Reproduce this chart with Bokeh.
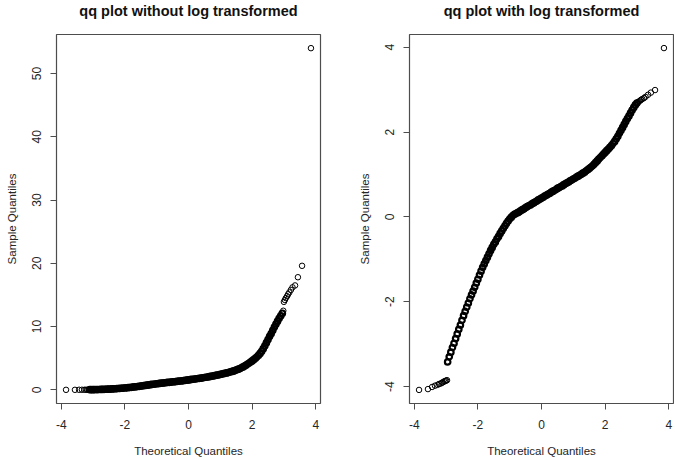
from bokeh.plotting import figure
from bokeh.layouts import row
from bokeh.models import Range1d, FixedTicker, Title
from bokeh.embed import file_html
from bokeh.resources import INLINE

# ---------------- data ----------------
titles = ["qq plot without log transformed", "qq plot with log transformed"]
x_label = "Theoretical Quantiles"
y_label = "Sample Quantiles"
x_ticks = [-4, -2, 0, 2, 4]
left_y_ticks = [0, 10, 20, 30, 40, 50]
right_y_ticks = [-4, -2, 0, 2, 4]

# ---- left panel (raw values) ----
left_low_theoretical = [-3.85, -3.57, -3.44, -3.35, -3.27, -3.22, -3.17, -3.13]
left_low_sample = [0.00, 0.00, 0.01, 0.01, 0.01, 0.01, 0.01, 0.02]

left_mid_theoretical = [
    -3.10, -3.05, -3.00, -2.95, -2.90, -2.85, -2.80, -2.75, -2.70, -2.65,
    -2.60, -2.55, -2.50, -2.45, -2.40, -2.35, -2.30, -2.25, -2.20, -2.15,
    -2.10, -2.05, -2.00, -1.95, -1.90, -1.85, -1.80, -1.75, -1.70, -1.65,
    -1.60, -1.55, -1.50, -1.45, -1.40, -1.35, -1.30, -1.25, -1.20, -1.15,
    -1.10, -1.05, -1.00, -0.95, -0.90, -0.85, -0.80, -0.75, -0.70, -0.65,
    -0.60, -0.55, -0.50, -0.45, -0.40, -0.35, -0.30, -0.25, -0.20, -0.15,
    -0.10, -0.05, 0.00, 0.05, 0.10, 0.15, 0.20, 0.25, 0.30, 0.35,
    0.40, 0.45, 0.50, 0.55, 0.60, 0.65, 0.70, 0.75, 0.80, 0.85,
    0.90, 0.95, 1.00, 1.05, 1.10, 1.15, 1.20, 1.25, 1.30, 1.35,
    1.40, 1.45, 1.50, 1.55, 1.60, 1.65, 1.70, 1.75, 1.80, 1.85,
    1.90, 1.95, 2.00, 2.05, 2.10, 2.15, 2.20, 2.25, 2.30, 2.35,
    2.40, 2.45, 2.50, 2.55, 2.60, 2.65, 2.70, 2.75, 2.80, 2.85,
    2.90, 2.95,
]
left_mid_sample = [
    0.02, 0.02, 0.03, 0.03, 0.04, 0.04, 0.05, 0.06, 0.07, 0.08,
    0.09, 0.10, 0.11, 0.12, 0.14, 0.15, 0.17, 0.19, 0.21, 0.23,
    0.25, 0.27, 0.29, 0.31, 0.34, 0.37, 0.40, 0.43, 0.46, 0.49,
    0.53, 0.56, 0.60, 0.63, 0.67, 0.70, 0.74, 0.77, 0.81, 0.85,
    0.88, 0.92, 0.96, 0.99, 1.02, 1.05, 1.08, 1.11, 1.14, 1.17,
    1.19, 1.22, 1.25, 1.28, 1.31, 1.34, 1.37, 1.40, 1.43, 1.47,
    1.50, 1.53, 1.57, 1.60, 1.64, 1.67, 1.71, 1.75, 1.79, 1.82,
    1.86, 1.90, 1.95, 1.99, 2.03, 2.08, 2.12, 2.17, 2.22, 2.27,
    2.32, 2.38, 2.43, 2.49, 2.55, 2.61, 2.67, 2.73, 2.80, 2.87,
    2.95, 3.03, 3.12, 3.22, 3.33, 3.45, 3.58, 3.72, 3.87, 4.03,
    4.20, 4.38, 4.57, 4.77, 4.98, 5.20, 5.45, 5.75, 6.10, 6.50,
    6.95, 7.45, 7.95, 8.45, 8.90, 9.40, 9.90, 10.40, 10.85, 11.30,
    11.70, 12.10,
]

left_high_theoretical = [2.98, 3.00, 3.03, 3.06, 3.10, 3.13, 3.17, 3.22, 3.27,
                         3.35, 3.44, 3.57, 3.85]
left_high_sample = [12.5, 13.9, 14.2, 14.5, 14.8, 15.1, 15.4, 15.8, 16.2,
                    16.5, 17.8, 19.6, 54.0]

# ---- right panel (log values) ----
right_low_theoretical = [-3.85, -3.57, -3.44, -3.35, -3.27, -3.22, -3.17,
                         -3.13, -3.10, -3.06, -3.03, -3.00, -2.97]
right_low_sample = [-4.08, -4.06, -4.01, -3.98, -3.96, -3.94, -3.93,
                    -3.91, -3.90, -3.88, -3.87, -3.86, -3.85]

right_mid_theoretical = [
    -2.95, -2.90, -2.85, -2.80, -2.75, -2.70, -2.65, -2.60, -2.55, -2.50,
    -2.45, -2.40, -2.35, -2.30, -2.25, -2.20, -2.15, -2.10, -2.05, -2.00,
    -1.95, -1.90, -1.85, -1.80, -1.75, -1.70, -1.65, -1.60, -1.55, -1.50,
    -1.45, -1.40, -1.35, -1.30, -1.25, -1.20, -1.15, -1.10, -1.05, -1.00,
    -0.95, -0.90, -0.85, -0.80, -0.75, -0.70, -0.65, -0.60, -0.55, -0.50,
    -0.45, -0.40, -0.35, -0.30, -0.25, -0.20, -0.15, -0.10, -0.05, 0.00,
    0.05, 0.10, 0.15, 0.20, 0.25, 0.30, 0.35, 0.40, 0.45, 0.50,
    0.55, 0.60, 0.65, 0.70, 0.75, 0.80, 0.85, 0.90, 0.95, 1.00,
    1.05, 1.10, 1.15, 1.20, 1.25, 1.30, 1.35, 1.40, 1.45, 1.50,
    1.55, 1.60, 1.65, 1.70, 1.75, 1.80, 1.85, 1.90, 1.95, 2.00,
    2.05, 2.10, 2.15, 2.20, 2.25, 2.30, 2.35, 2.40, 2.45, 2.50,
    2.55, 2.60, 2.65, 2.70, 2.75, 2.80, 2.85, 2.90, 2.95, 3.00,
]
right_mid_sample = [
    -3.42, -3.30, -3.19, -3.08, -2.98, -2.87, -2.76, -2.65, -2.55, -2.44,
    -2.33, -2.23, -2.13, -2.03, -1.93, -1.84, -1.75, -1.66, -1.56, -1.47,
    -1.37, -1.28, -1.19, -1.11, -1.03, -0.95, -0.87, -0.79, -0.72, -0.65,
    -0.59, -0.52, -0.46, -0.39, -0.33, -0.27, -0.21, -0.15, -0.10, -0.05,
    -0.01, 0.03, 0.06, 0.08, 0.10, 0.12, 0.15, 0.17, 0.19, 0.22,
    0.24, 0.26, 0.28, 0.31, 0.33, 0.35, 0.37, 0.40, 0.42, 0.44,
    0.46, 0.49, 0.51, 0.53, 0.55, 0.58, 0.60, 0.62, 0.64, 0.67,
    0.69, 0.71, 0.73, 0.76, 0.78, 0.80, 0.82, 0.85, 0.87, 0.89,
    0.91, 0.94, 0.96, 0.98, 1.00, 1.03, 1.05, 1.08, 1.11, 1.14,
    1.17, 1.20, 1.24, 1.28, 1.32, 1.36, 1.40, 1.44, 1.48, 1.52,
    1.56, 1.60, 1.64, 1.68, 1.73, 1.78, 1.84, 1.90, 1.97, 2.04,
    2.11, 2.18, 2.25, 2.32, 2.38, 2.45, 2.52, 2.58, 2.64, 2.68,
]

right_high_theoretical = [3.03, 3.06, 3.10, 3.13, 3.17, 3.22, 3.27, 3.35,
                          3.44, 3.57, 3.85]
right_high_sample = [2.70, 2.72, 2.74, 2.76, 2.78, 2.80, 2.83, 2.88,
                     2.93, 2.99, 3.98]

FONT = "Liberation Sans"
AXIS_COL = "#4d4d4d"
TEXT_COL = "#262626"
NEG_LABELS = {-4: "-4", -2: "-2"}
X_LO, X_HI = -4.15, 4.15


def make_panel(title, groups, y_lo, y_hi, y_ticks, border_left, frame_w,
               border_right):
    p = figure(
        frame_width=frame_w, frame_height=369,
        min_border_left=border_left, min_border_right=border_right,
        min_border_top=34, min_border_bottom=57,
        x_range=Range1d(X_LO, X_HI), y_range=Range1d(y_lo, y_hi),
        title=title, output_backend="svg", toolbar_location=None,
    )
    # empty spacer between frame and title, so the title sits high as in R
    p.add_layout(Title(text=" ", text_font_size="2px", standoff=12), "above")
    p.title.text_font = FONT
    p.title.text_font_style = "bold"
    p.title.text_font_size = "14.5px"
    p.title.text_color = "#111111"
    p.title.align = "center"
    p.title.standoff = 0

    p.grid.visible = False
    p.outline_line_color = AXIS_COL
    p.outline_line_width = 1.2
    p.background_fill_color = "white"
    p.border_fill_color = "white"

    for ax in (p.xaxis[0], p.yaxis[0]):
        ax.axis_line_color = None
        ax.major_tick_line_color = AXIS_COL
        ax.major_tick_line_width = 1
        ax.major_tick_out = 6
        ax.major_tick_in = 0
        ax.minor_tick_out = 0
        ax.minor_tick_in = 0
        ax.major_label_text_font = FONT
        ax.major_label_text_font_size = "12px"
        ax.major_label_text_color = TEXT_COL
        ax.major_label_overrides = NEG_LABELS
        ax.axis_label_text_font = FONT
        ax.axis_label_text_font_size = "11.5px"
        ax.axis_label_text_font_style = "normal"
        ax.axis_label_text_color = TEXT_COL

    p.xaxis.ticker = FixedTicker(ticks=x_ticks)
    p.xaxis.axis_label = x_label
    p.xaxis.major_label_standoff = 10
    p.xaxis.axis_label_standoff = 13

    p.yaxis.ticker = FixedTicker(ticks=y_ticks)
    p.yaxis.axis_label = y_label
    p.yaxis.major_label_orientation = "parallel"
    p.yaxis.major_label_standoff = 9
    p.yaxis.axis_label_standoff = 12

    for xs, ys, lw in groups:
        p.scatter(xs, ys, marker="circle", size=5.5, fill_color=None,
                  line_color="black", line_width=lw)
    return p


p1 = make_panel(
    titles[0],
    [(left_low_theoretical, left_low_sample, 1.0),
     (left_mid_theoretical, left_mid_sample, 2.2),
     (left_high_theoretical, left_high_sample, 1.0)],
    -2.16, 56.16, left_y_ticks, 56, 264, 30)
p2 = make_panel(
    titles[1],
    [(right_low_theoretical, right_low_sample, 1.0),
     (right_mid_theoretical, right_mid_sample, 2.2),
     (right_high_theoretical, right_high_sample, 1.0)],
    -4.40, 4.30, right_y_ticks, 59, 264, 1)

layout = row(p1, p2)
open("out.html", "w").write(file_html(layout, INLINE))
